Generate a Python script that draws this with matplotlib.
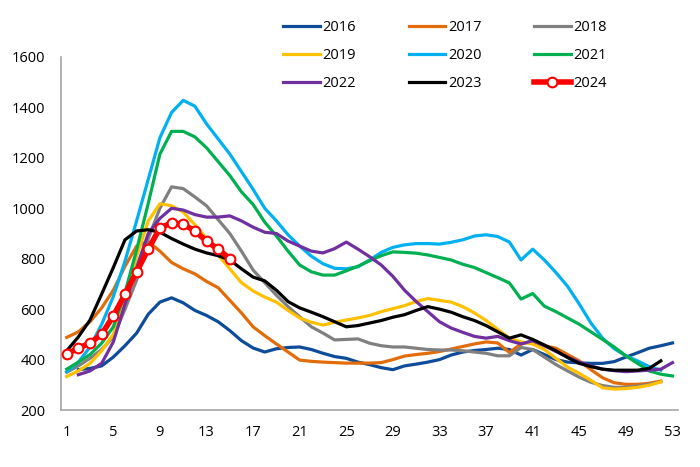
import matplotlib.pyplot as plt
import numpy as np

# weekly values
y2016 = [360, 365, 375, 410, 455, 505, 580, 628, 645, 625,
         595, 575, 550, 515, 475, 446, 430, 443, 448, 450,
         440, 425, 412, 405, 390, 380, 368, 360, 375, 382,
         390, 400, 418, 430, 436, 440, 445, 440, 418, 440,
         420, 400, 390, 387, 385, 385, 392, 410, 427, 445,
         455, 466]
y2017 = [488, 510, 550, 605, 675, 770, 850, 868, 830, 785,
         760, 740, 710, 685, 635, 585, 530, 495, 462, 430,
         398, 393, 390, 388, 386, 386, 386, 388, 400, 414,
         420, 425, 432, 442, 452, 462, 470, 466, 428, 462,
         472, 455, 445, 420, 395, 360, 328, 308, 302, 302,
         306, 315]
y2018 = [350, 375, 405, 440, 490, 600, 715, 880, 1000, 1085,
         1078, 1045, 1010, 955, 900, 830, 755, 705, 655, 610,
         570, 530, 505, 478, 480, 482, 465, 455, 450, 450,
         445, 440, 438, 438, 435, 430, 425, 415, 415, 448,
         440, 410, 380, 355, 330, 310, 297, 290, 290, 295,
         302, 312]
y2019 = [333, 355, 385, 435, 500, 640, 810, 950, 1018, 1010,
         985, 935, 880, 815, 760, 705, 672, 648, 628, 595,
         565, 548, 537, 548, 557, 565, 575, 590, 602, 614,
         630, 642, 635, 628, 610, 585, 555, 520, 485, 470,
         462, 440, 405, 370, 345, 318, 288, 283, 285, 290,
         298, 312]
y2020 = [352, 390, 450, 540, 650, 790, 950, 1115, 1280, 1380,
         1428, 1405, 1335, 1275, 1215, 1145, 1075, 1000, 950, 895,
         850, 810, 780, 762, 760, 768, 795, 825, 845, 855,
         860, 860, 858, 865, 875, 890, 895, 888, 866, 795,
         838, 795, 745, 690, 620, 545, 485, 443, 415, 395,
         372, 358]
y2021 = [362, 390, 420, 465, 530, 665, 835, 1020, 1215, 1305,
         1305, 1283, 1240, 1185, 1130, 1065, 1015, 945, 890, 830,
         775, 748, 735, 735, 752, 770, 792, 812, 827, 825,
         822, 815, 805, 795, 778, 765, 745, 725, 704, 640,
         662, 612, 590, 565, 540, 510, 480, 450, 415, 385,
         355, 342, 335]
y2022 = [340, 355, 385, 470, 620, 765, 900, 960, 1000, 993,
         975, 965, 965, 970, 950, 925, 905, 900, 870, 850,
         830, 823, 840, 866, 838, 808, 775, 730, 675, 630,
         590, 550, 525, 508, 492, 485, 492, 475, 462, 475,
         455, 432, 410, 390, 375, 362, 356, 352, 355, 358,
         362, 388]
y2023 = [435, 490, 557, 660, 765, 875, 910, 915, 905, 880,
         858, 838, 823, 812, 795, 760, 727, 712, 675, 630,
         605, 588, 570, 550, 530, 535, 545, 555, 568, 578,
         595, 610, 600, 588, 570, 555, 535, 510, 485, 498,
         480, 458, 435, 408, 385, 372, 362, 358, 358, 358,
         365, 395]
y2024 = [422, 446, 465, 501, 573, 659, 748, 838, 922, 942,
         937, 910, 870, 838, 800]

# first week of each series
start_week = {"2016": 2, "2017": 1, "2018": 1, "2019": 1, "2020": 1,
              "2021": 1, "2022": 2, "2023": 1}
series = {"2016": y2016, "2017": y2017, "2018": y2018, "2019": y2019,
          "2020": y2020, "2021": y2021, "2022": y2022, "2023": y2023}
colors = {"2016": "#0E4C9A", "2017": "#E36C0A", "2018": "#808080",
          "2019": "#FFC000", "2020": "#00B0F0", "2021": "#00B050",
          "2022": "#7030A0", "2023": "#000000"}

x_ticks = list(range(1, 54, 4))
y_ticks = list(range(200, 1601, 200))

plt.rcParams['font.family'] = ['Open Sans', 'DejaVu Sans']

fig = plt.figure(figsize=(7, 4.67), dpi=100)
ax = fig.add_axes([0.087, 0.122, 0.882, 0.756])

handles = {}
for name, vals in series.items():
    weeks = np.arange(start_week[name], start_week[name] + len(vals))
    handles[name], = ax.plot(weeks, vals, color=colors[name], lw=2.3,
                             label=name, solid_joinstyle='round')

weeks24 = np.arange(1, len(y2024) + 1)
handles["2024"], = ax.plot(weeks24, y2024, color="#FF0000", lw=4, marker='o',
                           ms=7, mfc='white', mec='#FF0000', mew=1.5,
                           label="2024", zorder=5)

ax.set_xlim(0.5, 53.5)
ax.set_ylim(200, 1600)
ax.set_xticks(x_ticks)
ax.set_yticks(y_ticks)
ax.tick_params(length=0, labelsize=10.5, pad=11)
for s in ['top', 'right']:
    ax.spines[s].set_visible(False)
for s in ['left', 'bottom']:
    ax.spines[s].set_color('#A6A6A6')
    ax.spines[s].set_linewidth(1.2)

# legend is filled row by row in the reference
order = ["2016", "2019", "2022", "2017", "2020", "2023", "2018", "2021", "2024"]
fig.legend([handles[k] for k in order], order,
           loc='upper left', bbox_to_anchor=(0.386, 0.985), ncol=3,
           frameon=False, fontsize=10.5, handlelength=2.5,
           handletextpad=0.2, columnspacing=3.6, labelspacing=0.9)

fig.savefig("out.png", dpi=100)
